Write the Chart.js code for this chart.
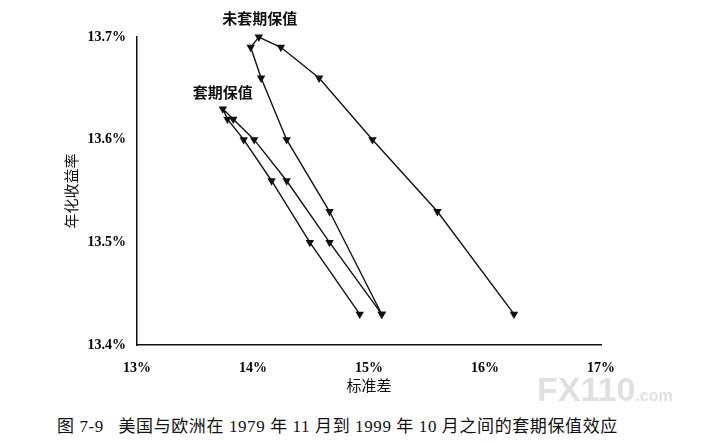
<!DOCTYPE html>
<html>
<head>
<meta charset="utf-8">
<script src="https://cdn.jsdelivr.net/npm/chart.js@4"></script>
<style>
  html, body { margin: 0; padding: 0; background: #fff; }
  #wrap { position: relative; width: 718px; height: 444px; overflow: hidden; }
  #chartBox { position: absolute; left: 0; top: 0; width: 718px; height: 394px; }
  #caption {
    position: absolute; left: 57px; top: 412px; white-space: nowrap; letter-spacing: 0.6px;
    font-family: "Liberation Serif", "Noto Sans CJK SC", serif; font-size: 17px; color: #111;
  }
  #mark {
    position: absolute; left: 537px; top: 370px; white-space: nowrap; color: #e0e0e0;
    font-family: "Liberation Sans", Arial, sans-serif; font-weight: bold;
  }
</style>
</head>
<body>
<div id="wrap">
  <div id="chartBox"><canvas id="myChart"></canvas></div>
  <div id="caption">图 7-9&nbsp;&nbsp;&nbsp;美国与欧洲在 1979 年 11 月到 1999 年 10 月之间的套期保值效应</div>
  <div id="mark"><span style="font-size:34px">FX110</span><span style="font-size:16px">.com</span></div>
</div>
<script>
// standard deviation (%) and annualised return (%)
const unhedgedX = [15.11, 14.66, 14.29, 14.07, 13.98, 14.05, 14.24, 14.57, 15.03, 15.59, 16.25];
const unhedgedY = [13.43, 13.53, 13.60, 13.66, 13.69, 13.70, 13.69, 13.66, 13.60, 13.53, 13.43];
const hedgedX = [14.92, 14.49, 14.16, 13.92, 13.78, 13.74, 13.83, 14.01, 14.29, 14.66, 15.11];
const hedgedY = [13.43, 13.50, 13.56, 13.60, 13.62, 13.63, 13.62, 13.60, 13.56, 13.50, 13.43];

const seriesNames = ['未套期保值', '套期保值'];
const xTicks = [13, 14, 15, 16, 17];
const yTicks = [13.4, 13.5, 13.6, 13.7];

const toPoints = (xs, ys) => xs.map((x, i) => ({ x: x, y: ys[i] }));

// writes the series name above the highest point of each curve
const seriesLabels = {
    id: 'seriesLabels',
    afterDatasetsDraw(chart) {
        const ctx = chart.ctx;
        const offsets = [[1, -19], [0, -17]];
        ctx.save();
        ctx.font = 'bold 15px "Noto Sans CJK SC"';
        ctx.fillStyle = '#111';
        ctx.textAlign = 'center';
        ctx.textBaseline = 'middle';
        chart.data.datasets.forEach((ds, i) => {
            let top = ds.data[0];
            ds.data.forEach(p => { if (p.y > top.y) top = p; });
            const px = chart.scales.x.getPixelForValue(top.x);
            const py = chart.scales.y.getPixelForValue(top.y);
            ctx.fillText(ds.label, px + offsets[i][0], py + offsets[i][1]);
        });
        ctx.restore();
    }
};

const lineStyle = {
    borderColor: '#111',
    backgroundColor: '#111',
    borderWidth: 1.4,
    pointStyle: 'triangle',
    rotation: 180,
    pointRadius: 3.5,
    pointHoverRadius: 3.5,
    tension: 0,
    clip: false
};

const ctx = document.getElementById('myChart').getContext('2d');
const myChart = new Chart(ctx, {
    type: 'line',
    data: {
        datasets: [
            Object.assign({ label: seriesNames[0], data: toPoints(unhedgedX, unhedgedY) }, lineStyle),
            Object.assign({ label: seriesNames[1], data: toPoints(hedgedX, hedgedY) }, lineStyle)
        ]
    },
    options: {
        responsive: true,
        maintainAspectRatio: false,
        animation: false,
        layout: { padding: { left: 62, right: 117, top: 37, bottom: 0 } },
        scales: {
            x: {
                type: 'linear',
                min: 13,
                max: 17,
                afterBuildTicks: axis => { axis.ticks = xTicks.map(v => ({ value: v })); },
                afterFit: axis => { axis.height = 49; },
                grid: { display: false, drawTicks: false },
                border: { display: true, color: '#111', width: 1.5 },
                ticks: {
                    padding: 15,
                    color: '#000',
                    font: { family: 'Liberation Serif', size: 14, weight: 'bold' },
                    callback: v => v + '%'
                },
                title: {
                    display: true,
                    text: '标准差',
                    color: '#111',
                    padding: { top: 4, bottom: 0 },
                    font: { family: 'Noto Sans CJK SC', size: 15 }
                }
            },
            y: {
                min: 13.4,
                max: 13.7,
                afterBuildTicks: axis => { axis.ticks = yTicks.map(v => ({ value: v })); },
                afterFit: axis => { axis.width = 137 - 62; },
                grid: { display: false, drawTicks: false },
                border: { display: true, color: '#111', width: 1.5 },
                ticks: {
                    padding: 11,
                    color: '#000',
                    font: { family: 'Liberation Serif', size: 14, weight: 'bold' },
                    callback: v => v.toFixed(1) + '%'
                },
                title: {
                    display: true,
                    text: '年化收益率',
                    color: '#111',
                    padding: 0,
                    font: { family: 'Noto Sans CJK SC', size: 15 }
                }
            }
        },
        plugins: {
            legend: { display: false },
            tooltip: { enabled: false }
        }
    },
    plugins: [seriesLabels]
});
</script>
</body>
</html>
